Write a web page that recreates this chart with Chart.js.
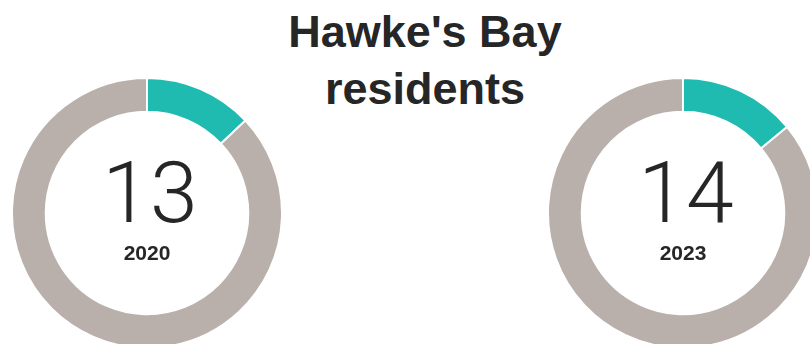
<!DOCTYPE html>
<html lang="en">
<head>
    <meta charset="UTF-8">
    <title>Hawke's Bay residents</title>
    <script src="https://cdn.jsdelivr.net/npm/chart.js"></script>
    <style>
        html, body { margin: 0; padding: 0; background: #fff; overflow: hidden; }
        body { width: 810px; height: 344px; position: relative; }
        h1 {
            position: absolute; left: 225px; top: 3px; width: 400px; margin: 0;
            text-align: center; color: #262626;
            font: bold 45px "Liberation Sans", Arial, sans-serif; line-height: 57px;
        }
        .donut { position: absolute; top: 77px; width: 272px; height: 272px; }
        #left { left: 11px; }
        #right { left: 547px; }
    </style>
</head>
<body>
    <h1>Hawke's Bay<br>residents</h1>
    <div class="donut" id="left"><canvas id="chart2020"></canvas></div>
    <div class="donut" id="right"><canvas id="chart2023"></canvas></div>
</body>
</html>

<script>
    var categorias = ["Hawke's Bay residents", "Other"];
    var anos = ["2020", "2023"];
    var percentuais = [13, 14];
    var cores = ["#20bbb0", "#b9b0ab"];

    // escreve o número e o ano no meio da rosca
    const textoCentro = {
        id: 'textoCentro',
        afterDraw(chart) {
            const arco = chart.getDatasetMeta(0).data[0];
            if (!arco) return;
            const ctx = chart.ctx;
            const cx = arco.x, cy = arco.y;
            ctx.save();
            ctx.fillStyle = "#262626";
            ctx.textAlign = "center";
            ctx.textBaseline = "alphabetic";
            ctx.font = "300 86px Roboto, Lato, sans-serif";
            ctx.fillText(String(chart.data.datasets[0].data[0]), cx + 3, cy + 9);
            ctx.font = "bold 21px 'Liberation Sans', Arial, sans-serif";
            ctx.fillText(chart.options.plugins.textoCentro.ano, cx, cy + 47);
            ctx.restore();
        }
    };

    function rosca(id, valor, ano) {
        const data = {
            labels: categorias,
            datasets: [{
                data: [valor, 100 - valor],
                backgroundColor: cores,
                borderColor: "#ffffff",
                borderWidth: 2
            }]
        };
        new Chart(document.getElementById(id), {
            type: 'doughnut',
            data: data,
            options: {
                responsive: true,
                maintainAspectRatio: false,
                animation: false,
                cutout: '75%',
                layout: { padding: 0 },
                plugins: {
                    legend: { display: false },
                    tooltip: { enabled: false },
                    textoCentro: { ano: ano }
                }
            },
            plugins: [textoCentro]
        });
    }

    rosca('chart2020', percentuais[0], anos[0]);
    rosca('chart2023', percentuais[1], anos[1]);
</script>
